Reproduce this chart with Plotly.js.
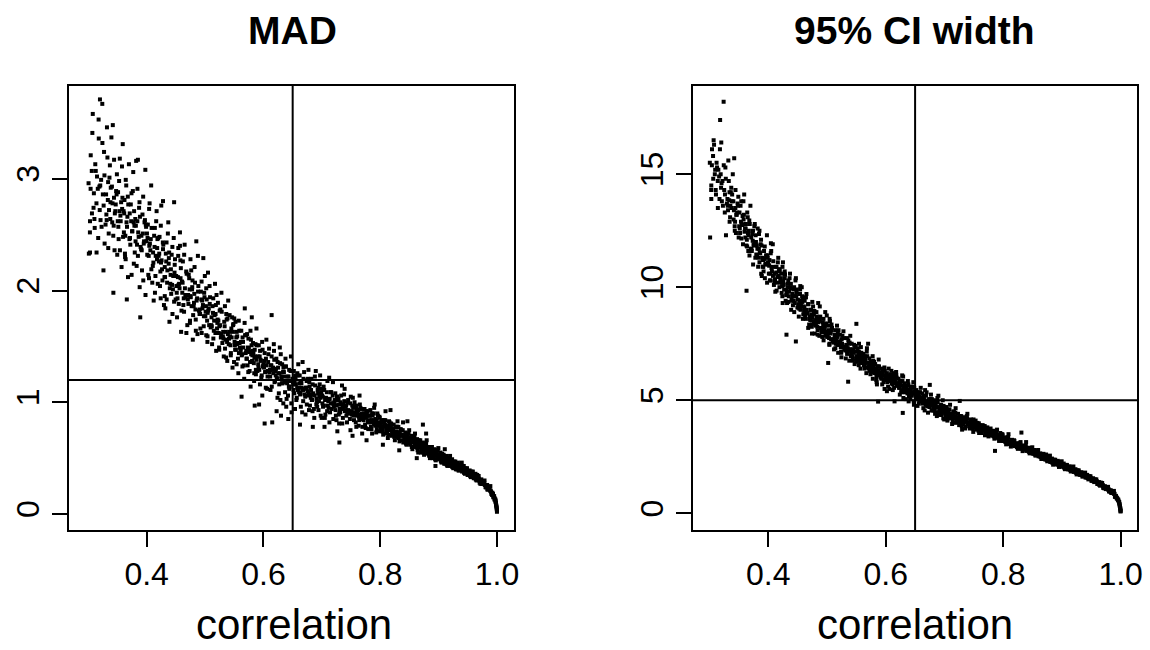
<!DOCTYPE html>
<html>
<head>
<meta charset="utf-8">
<script src="https://cdn.plot.ly/plotly-3.0.1.min.js"></script>
<style>html,body{margin:0;padding:0;background:#fff;}#chart{width:1150px;height:650px;}</style>
</head>
<body>
<div id="chart"></div>
<script>
// correlation of each simulated data set (shared by both panels) - first batch
const corrA = [
.301,.303,.304,.306,.307,.309,
.311,.312,.314,.315,.317,.318,.319,
.320,.321,.322,.324,.325,.327,.328,
.331,.332,.334,.335,.337,.338,
.341,.342,.344,.345,.347,.349,
.351,.352,.354,.355,.357,.358,.359,
.361,.362,.364,.365,.367,.368,
.371,.372,.374,.375,.377,.378,.379,
.381,.382,.384,.385,.387,.388,
.391,.392,.394,.395,.397,.398,.399,
.401,.402,.404,.405,.407,.408,
.411,.412,.414,.415,.417,.418,.419,
.421,.422,.424,.425,.427,.428,
.431,.432,.434,.435,.437,.438,.439,
.441,.442,.444,.445,.447,.448,
.451,.452,.454,.455,.457,.458,.459,
.461,.462,.464,.465,.467,.468,
.471,.472,.474,.475,.477,.478,.479,
.481,.482,.484,.485,.487,.488,
.491,.492,.494,.495,.497,.498,.499,
.501,.502,.504,.505,.507,.508,
.511,.512,.514,.515,.517,.518,.519,
.521,.522,.524,.525,.527,.528,
.531,.532,.534,.535,.537,.538,.539,
.541,.542,.544,.545,.547,.548,
.551,.552,.554,.555,.557,.558,.559,
.561,.562,.564,.565,.567,.568,
.571,.572,.574,.575,.577,.578,.579,
.581,.582,.584,.585,.587,.588,
.591,.592,.594,.595,.597,.598,.599,
.601,.602,.604,.605,.607,.608,
.611,.612,.614,.615,.617,.618,.619,
.621,.622,.624,.625,.627,.628,
.631,.632,.634,.635,.637,.638,.639,
.641,.642,.644,.645,.647,.648,
.651,.652,.654,.655,.657,.658,.659,
.661,.662,.664,.665,.667,.668,
.671,.672,.674,.675,.677,.678,.679,
.681,.682,.684,.685,.687,.688,
.691,.692,.694,.695,.697,.698,.699,
.701,.703,.705,.707,.709,
.711,.713,.715,.717,.719,
.721,.723,.725,.727,.729,
.731,.733,.735,.737,.739,
.741,.743,.745,.747,.749,
.751,.753,.755,.757,.759,
.761,.763,.765,.767,.769,
.771,.773,.775,.777,.779,
.781,.783,.785,.787,.789,
.791,.793,.795,.797,.799,
.801,.803,.805,.807,.809,
.811,.813,.815,.817,.819,
.821,.823,.825,.827,.829,
.831,.833,.835,.837,.839,
.841,.843,.845,.847,.849,
.851,.853,.855,.857,.859,
.861,.863,.865,.867,.869,
.871,.873,.875,.877,.879,
.881,.883,.885,.887,.889,
.891,.893,.895,.897,.899,
.901,.903,.905,.907,.909,
.911,.913,.915,.917,.919,
.921,.923,.925,.927,.929,
.931,.933,.935,.937,.939,
.941,.943,.945,.947,.949,
.951,.953,.955,.957,.959,
.961,.963,.965,.967,.969,
.971,.973,.975,.977,.979,
.981,.983,.985,.987,.989,
.991,.993,.995,.997,.998,
.9985,.9992,.9996,.9999
];

// MAD of each data set - first batch
const madA = [
2.33,2.62,2.91,3.07,3.41,2.74,
2.56,3.13,2.78,3.02,2.47,3.36,2.93,
3.71,2.63,2.99,3.67,2.86,3.24,2.42,
2.68,3.46,2.97,2.51,3.12,2.79,
2.61,3.48,2.83,2.36,2.77,3.04,
2.88,2.46,3.18,2.67,2.21,2.73,3.31,
2.52,2.81,2.28,2.94,2.66,2.12,
2.69,2.41,2.87,2.53,3.06,2.24,2.58,
2.44,3.16,2.62,2.31,2.74,2.03,
2.49,2.18,2.84,2.42,2.63,1.96,2.57,
2.32,2.59,2.11,2.78,2.46,2.19,
2.34,1.91,2.56,2.13,2.71,2.38,2.06,
2.26,2.48,1.93,2.76,2.09,2.37,
2.21,1.84,2.43,2.07,2.61,2.29,1.72,
2.14,1.97,2.39,2.01,2.79,2.23,
2.04,1.76,2.31,1.88,2.52,2.11,1.63,
1.98,2.26,1.81,2.41,1.94,1.62,
1.96,2.14,1.71,2.28,1.86,2.03,1.56,
1.89,2.21,1.74,2.44,1.61,1.99,
1.83,1.66,2.08,1.91,2.29,1.77,1.94,
1.81,2.02,1.54,2.16,1.69,1.88,
1.76,1.52,1.93,1.64,2.06,1.79,1.46,
1.71,1.89,1.49,1.82,1.58,1.98,
1.63,1.41,1.86,1.56,1.74,1.37,1.61,
1.57,1.78,1.42,1.66,1.31,1.69,
1.51,1.72,1.34,1.59,1.26,1.44,1.53,
1.46,1.64,1.32,1.54,1.21,1.84,
1.39,1.61,1.27,1.48,1.36,1.14,1.43,
1.42,1.53,1.19,1.47,1.29,1.66,
1.34,1.51,1.16,1.38,1.24,1.06,1.32,
1.31,1.44,1.13,1.56,1.23,1.36,
1.29,1.11,1.41,0.82,1.26,1.46,1.18,
1.24,1.39,1.04,1.31,1.16,1.49,
1.21,1.34,0.99,1.27,1.09,1.32,0.96,
1.19,1.06,1.29,1.14,1.41,0.91,
1.16,1.28,0.94,1.22,1.04,1.26,1.11,
1.09,1.24,0.96,1.17,1.36,1.01,
1.12,0.89,1.19,1.06,1.29,0.93,1.14,
1.04,1.21,0.92,1.08,0.86,1.23,
1.03,0.96,1.13,1.01,1.24,0.88,1.09,
0.99,1.14,0.86,1.04,0.92,
1.01,0.82,1.09,0.94,1.18,
0.97,1.08,0.84,1.02,0.89,
0.94,1.06,0.81,0.98,1.12,
0.93,0.82,1.02,0.9,0.75,
0.92,1.04,0.84,0.96,0.78,
0.91,0.79,0.98,0.86,0.72,
0.87,0.94,0.77,0.89,0.83,
0.84,0.93,0.76,0.88,0.81,
0.82,0.73,0.9,0.79,0.86,
0.79,0.84,0.71,0.81,0.92,
0.77,0.68,0.83,0.75,0.8,
0.74,0.8,0.66,0.72,0.78,
0.71,0.65,0.76,0.7,0.82,
0.68,0.73,0.62,0.7,0.66,
0.65,0.7,0.58,0.67,0.61,
0.62,0.67,0.55,0.64,0.6,
0.59,0.64,0.53,0.61,0.57,
0.56,0.6,0.5,0.58,0.54,
0.53,0.58,0.48,0.55,0.51,
0.5,0.55,0.46,0.52,0.48,
0.48,0.52,0.43,0.49,0.46,
0.45,0.49,0.41,0.46,0.43,
0.42,0.46,0.39,0.43,0.4,
0.39,0.43,0.36,0.4,0.37,
0.36,0.39,0.33,0.37,0.34,
0.33,0.36,0.3,0.33,0.31,
0.29,0.31,0.27,0.28,0.26,
0.24,0.26,0.22,0.23,0.21,
0.19,0.18,0.16,0.13,0.1,
0.08,0.06,0.04,0.03
];

// 95% CI width of each data set - first batch
const ciA = [
12.2,14.5,15.4,15.8,16.5,15.0,
14.1,15.5,14.7,15.2,13.9,17.4,15.0,
16.4,13.8,14.7,18.2,14.3,15.3,12.3,
13.6,15.6,14.2,13.1,14.4,13.8,
13.0,15.7,13.5,12.4,13.3,14.0,
13.3,12.4,13.8,12.8,11.9,13.0,14.1,
12.2,12.8,11.8,13.1,12.5,11.4,
12.2,11.6,12.5,11.9,12.8,11.3,12.0,
11.4,12.6,11.7,11.1,11.9,10.6,
11.2,10.7,11.8,11.0,11.4,10.2,11.3,
10.6,11.2,10.3,11.6,10.9,10.5,
10.6,9.8,10.9,10.2,11.3,10.7,10.0,
10.2,10.6,9.6,11.1,9.9,10.4,
9.85,9.3,10.3,9.6,10.6,10.0,9.0,
9.6,9.2,10.0,9.3,10.4,9.75,
9.25,8.7,9.7,9.0,10.0,9.35,8.6,
8.95,9.4,8.6,9.7,8.85,8.2,
8.7,9.0,8.25,9.35,8.5,8.9,7.95,
8.4,8.9,8.1,9.3,7.85,8.6,
8.15,7.8,8.6,8.25,8.9,7.95,8.35,
7.9,8.3,7.45,8.5,7.7,8.1,
7.7,7.25,8.1,7.5,8.3,7.8,7.1,
7.55,7.9,7.15,7.7,7.35,8.05,
7.35,6.85,7.75,7.15,7.5,6.75,7.25,
7.05,7.5,6.75,7.25,6.6,7.4,
6.85,7.3,6.55,7.1,6.4,6.8,7.0,
6.65,7.05,6.4,6.85,6.2,7.3,
6.45,6.85,6.15,6.6,6.35,5.95,6.55,
6.3,6.6,5.9,6.4,6.1,6.8,
6.1,6.4,5.7,6.2,5.9,5.5,6.0,
5.9,6.2,5.6,6.4,5.85,6.05,
5.85,5.45,6.05,4.95,5.75,6.1,5.65,
5.65,5.95,5.25,5.75,5.45,6.1,
5.45,5.75,5.05,5.55,5.3,5.65,4.95,
5.4,5.05,5.6,5.3,5.8,4.8,
5.15,5.45,4.75,5.25,4.95,5.35,5.05,
4.95,5.3,4.65,5.1,5.45,4.8,
4.85,4.45,5.05,4.75,5.25,4.55,4.95,
4.7,5.0,4.4,4.8,4.3,5.1,
4.55,4.35,4.8,4.45,5.0,4.2,4.65,
4.4,4.7,4.1,4.5,4.25,
4.3,3.95,4.5,4.2,4.65,
4.15,4.4,3.9,4.2,4.0,
4.05,4.25,3.75,4.1,4.4,
3.95,3.75,4.15,3.9,3.6,
3.85,4.1,3.7,3.9,3.55,
3.75,3.55,3.9,3.7,3.45,
3.6,3.8,3.4,3.65,3.55,
3.5,3.65,3.3,3.55,3.4,
3.4,3.2,3.55,3.35,3.45,
3.25,3.35,3.05,3.25,3.5,
3.15,2.95,3.25,3.1,3.2,
3.0,3.1,2.85,2.95,3.05,
2.9,2.75,3.0,2.85,3.15,
2.8,2.9,2.65,2.8,2.75,
2.7,2.8,2.55,2.7,2.6,
2.55,2.65,2.4,2.6,2.5,
2.42,2.55,2.3,2.45,2.38,
2.3,2.42,2.15,2.35,2.25,
2.2,2.32,2.05,2.25,2.15,
2.08,2.2,1.95,2.12,2.02,
1.97,2.08,1.85,2.0,1.92,
1.85,1.95,1.72,1.88,1.8,
1.72,1.82,1.62,1.75,1.68,
1.6,1.7,1.5,1.62,1.55,
1.46,1.55,1.38,1.48,1.42,
1.3,1.38,1.22,1.3,1.25,
1.14,1.2,1.07,1.1,1.04,
0.97,1.02,0.9,0.93,0.86,
0.72,0.7,0.62,0.52,0.42,
0.32,0.24,0.15,0.1
];

// second batch of simulated data sets
const corrB = [
.3005,.3028,.3042,.3063,.3077,.3096,
.3105,.3128,.3142,.3163,.3177,.3196,
.3205,.3228,.3242,.3263,.3277,.3296,
.3305,.3328,.3342,.3363,.3377,.3396,
.3405,.3428,.3442,.3463,.3477,.3496,
.3505,.3528,.3542,.3563,.3577,.3596,
.3605,.3628,.3642,.3663,.3677,.3696,
.3705,.3728,.3742,.3763,.3777,.3796,
.3805,.3828,.3842,.3863,.3877,.3896,
.3905,.3928,.3942,.3963,.3977,.3996,
.4005,.4028,.4042,.4063,.4077,.4096,
.4105,.4128,.4142,.4163,.4177,.4196,
.4205,.4228,.4242,.4263,.4277,.4296,
.4305,.4328,.4342,.4363,.4377,.4396,
.4405,.4428,.4442,.4463,.4477,.4496,
.4505,.4528,.4542,.4563,.4577,.4596,
.4605,.4628,.4642,.4663,.4677,.4696,
.4705,.4728,.4742,.4763,.4777,.4796,
.4805,.4828,.4842,.4863,.4877,.4896,
.4905,.4928,.4942,.4963,.4977,.4996,
.5005,.5028,.5042,.5063,.5077,.5096,
.5105,.5128,.5142,.5163,.5177,.5196,
.5205,.5228,.5242,.5263,.5277,.5296,
.5305,.5328,.5342,.5363,.5377,.5396,
.5405,.5428,.5442,.5463,.5477,.5496,
.5505,.5528,.5542,.5563,.5577,.5596,
.5605,.5628,.5642,.5663,.5677,.5696,
.5705,.5728,.5742,.5763,.5777,.5796,
.5805,.5828,.5842,.5863,.5877,.5896,
.5905,.5928,.5942,.5963,.5977,.5996,
.6005,.6028,.6042,.6063,.6077,.6096,
.6105,.6128,.6142,.6163,.6177,.6196,
.6205,.6228,.6242,.6263,.6277,.6296,
.6305,.6328,.6342,.6363,.6377,.6396,
.6405,.6428,.6442,.6463,.6477,.6496,
.6505,.6528,.6542,.6563,.6577,.6596,
.6605,.6628,.6642,.6663,.6677,.6696,
.6705,.6728,.6742,.6763,.6777,.6796,
.6805,.6828,.6842,.6863,.6877,.6896,
.6905,.6928,.6942,.6963,.6977,.6996,
.7002,.702,.704,.706,.708,.7095,
.7102,.712,.714,.716,.718,.7195,
.7202,.722,.724,.726,.728,.7295,
.7302,.732,.734,.736,.738,.7395,
.7402,.742,.744,.746,.748,.7495,
.7502,.752,.754,.756,.758,.7595,
.7602,.762,.764,.766,.768,.7695,
.7702,.772,.774,.776,.778,.7795,
.7802,.782,.784,.786,.788,.7895,
.7902,.792,.794,.796,.798,.7995,
.8002,.802,.804,.806,.808,.8095,
.8102,.812,.814,.816,.818,.8195,
.8202,.822,.824,.826,.828,.8295,
.8302,.832,.834,.836,.838,.8395,
.8402,.842,.844,.846,.848,.8495,
.8502,.852,.854,.856,.858,.8595,
.8602,.862,.864,.866,.868,.8695,
.8702,.872,.874,.876,.878,.8795,
.8802,.882,.884,.886,.888,.8895,
.8902,.892,.894,.896,.898,.8995,
.9002,.902,.904,.906,.908,.9095,
.9102,.912,.914,.916,.918,.9195,
.9202,.922,.924,.926,.928,.9295,
.9302,.932,.934,.936,.938,.9395,
.9402,.942,.944,.946,.948,.9495,
.9502,.952,.954,.956,.958,.9595,
.9602,.962,.964,.966,.968,.9695,
.9702,.972,.974,.976,.978,.9795,
.9802,.982,.984,.986,.988,.9895,
.9902,.992,.994,.996,.9975,.9982,
.9988,.9994,.9998
];

const madB = [
2.96,2.52,3.21,2.69,3.58,2.87,
2.64,3.07,2.34,2.91,3.53,2.72,
2.94,2.57,3.32,2.76,3.03,2.59,
2.86,3.19,2.38,3.01,2.64,3.37,
2.93,2.49,3.17,2.71,2.89,2.32,
2.62,2.98,2.36,2.79,3.11,2.48,
2.71,2.33,2.99,2.57,2.84,3.13,
2.46,2.77,2.14,2.89,2.61,2.34,
2.64,2.22,2.91,2.48,2.79,2.39,
2.37,2.68,2.09,2.61,3.08,2.44,
2.51,2.14,2.73,2.36,2.94,2.07,
2.22,2.49,1.98,2.62,2.28,2.47,
2.31,2.04,2.58,2.19,2.43,1.87,
2.12,2.33,1.92,2.51,2.24,2.02,
2.06,2.32,1.79,2.47,2.16,1.92,
2.13,1.93,2.38,2.02,2.27,1.82,
2.08,1.87,2.32,1.96,2.17,1.69,
1.92,2.11,1.73,2.18,2.01,1.78,
1.86,2.07,1.64,1.93,2.31,1.82,
1.79,1.99,1.62,1.87,1.68,2.13,
1.77,1.92,1.59,1.84,2.04,1.67,
1.69,1.86,1.57,1.78,1.62,1.96,
1.66,1.73,1.47,1.83,1.61,1.53,
1.59,1.72,1.48,1.79,1.54,1.91,
1.52,1.59,1.44,1.76,1.63,1.36,
1.54,1.47,1.63,1.39,1.73,1.49,
1.48,1.42,1.58,1.33,1.71,1.44,
1.46,1.33,1.57,1.28,1.64,1.51,
1.37,1.44,1.26,1.52,1.38,1.28,
1.41,1.29,1.46,1.22,1.54,1.33,
1.34,1.27,1.39,1.12,1.28,1.48,
1.27,1.33,1.14,1.31,1.52,1.19,
1.28,1.22,1.36,1.08,1.26,1.43,
1.23,1.17,1.31,1.18,1.39,1.03,
1.17,1.23,1.12,1.28,0.99,1.21,
1.18,1.08,1.24,1.02,1.13,1.34,
1.13,1.07,1.18,0.91,1.11,1.27,
1.07,1.13,0.98,1.21,1.08,0.97,
1.07,1.02,1.16,0.94,1.06,1.28,
0.98,1.11,0.93,1.16,1.04,0.86,
1.06,0.96,1.11,0.89,1.02,1.19,
0.97,1.03,0.91,1.09,0.99,0.85,
0.96,1.02,0.88,1.05,0.98,0.81,
0.91,1.0,0.94,0.86,1.07,0.92,
0.96,0.88,1.0,0.92,0.85,1.05,
0.9,0.97,0.88,1.0,0.82,0.94,
0.88,0.93,0.84,0.95,0.9,0.78,
0.85,0.9,0.8,0.92,0.88,0.76,
0.82,0.88,0.78,0.9,0.84,0.95,
0.8,0.85,0.76,0.88,0.82,0.74,
0.77,0.82,0.74,0.84,0.8,0.72,
0.75,0.79,0.71,0.82,0.77,0.7,
0.72,0.76,0.69,0.78,0.74,0.83,
0.69,0.73,0.66,0.75,0.71,0.64,
0.66,0.7,0.63,0.72,0.68,0.75,
0.63,0.67,0.6,0.69,0.65,0.72,
0.6,0.64,0.57,0.66,0.62,0.55,
0.57,0.61,0.55,0.63,0.59,0.66,
0.54,0.58,0.52,0.6,0.56,0.5,
0.52,0.55,0.49,0.57,0.53,0.59,
0.49,0.52,0.47,0.54,0.5,0.45,
0.46,0.49,0.44,0.5,0.47,0.52,
0.43,0.46,0.42,0.47,0.44,0.4,
0.41,0.43,0.39,0.44,0.42,0.46,
0.38,0.4,0.37,0.41,0.39,0.35,
0.35,0.37,0.34,0.38,0.36,0.33,
0.32,0.34,0.31,0.35,0.32,0.3,
0.28,0.3,0.27,0.29,0.28,0.26,
0.24,0.25,0.22,0.23,0.21,0.2,
0.18,0.19,0.16,0.14,0.12,0.09,
0.07,0.05,0.02
];

const ciB = [
15.5,14.3,16.1,14.8,16.3,15.2,
14.3,15.3,13.5,14.9,16.1,14.4,
14.6,13.6,15.4,14.1,14.8,13.7,
13.9,14.7,12.9,14.2,13.5,15.0,
13.8,12.7,14.3,13.2,13.7,12.2,
12.7,13.6,12.15,13.15,13.8,12.45,
12.6,11.85,13.3,12.3,12.95,13.6,
11.7,12.35,11.0,12.7,12.0,11.45,
11.85,10.9,12.35,11.5,12.1,11.3,
10.9,11.6,10.4,11.4,12.3,11.1,
11.0,10.3,11.5,10.7,11.9,10.1,
10.25,10.9,9.85,11.1,10.5,10.75,
10.3,9.75,10.9,10.1,10.6,9.4,
9.65,10.15,9.35,10.4,9.95,9.45,
9.4,9.9,8.9,10.3,9.6,9.1,
9.45,9.05,9.9,9.15,9.6,8.8,
9.15,8.65,9.55,8.85,9.25,8.35,
8.6,9.0,8.35,9.15,8.8,8.4,
8.3,8.7,7.9,8.5,9.15,8.2,
8.05,8.45,7.65,8.25,7.85,8.75,
7.8,8.1,7.5,8.0,8.35,7.6,
7.65,7.9,7.3,7.85,7.45,8.1,
7.45,7.6,7.1,7.85,7.35,7.25,
7.25,7.45,7.05,7.65,7.2,7.85,
6.95,7.15,6.85,7.45,7.15,6.7,
6.95,6.75,7.15,6.65,7.35,6.85,
6.75,6.55,6.95,6.45,7.15,6.65,
6.5,6.3,6.7,6.25,6.95,6.6,
6.2,6.4,6.05,6.5,6.3,6.15,
6.2,5.95,6.3,5.8,6.45,6.1,
6.0,5.8,6.1,5.5,5.9,6.3,
5.75,5.95,5.55,5.85,6.25,5.65,
5.75,5.55,5.85,5.35,5.65,6.05,
5.55,5.35,5.65,5.45,5.85,5.15,
5.3,5.5,5.2,5.6,4.95,5.4,
5.25,5.05,5.35,4.85,5.15,5.55,
5.05,4.85,5.15,4.55,4.95,5.35,
4.75,5.0,4.7,5.05,4.85,4.55,
4.8,4.55,4.9,4.45,4.7,5.2,
4.45,4.7,4.35,4.75,4.55,4.15,
4.5,4.3,4.6,4.2,4.4,4.8,
4.25,4.4,4.1,4.5,4.3,4.0,
4.15,4.25,4.05,4.3,4.2,3.85,
3.95,4.15,4.05,3.85,4.3,4.0,
4.0,3.85,4.05,3.9,3.75,4.15,
3.8,3.95,3.8,4.0,3.65,3.9,
3.7,3.8,3.65,3.85,3.75,3.5,
3.6,3.7,3.5,3.7,3.65,3.45,
3.45,3.6,3.4,3.6,3.5,3.7,
3.35,3.45,3.25,3.5,3.4,3.2,
3.2,3.3,3.15,3.35,3.25,3.1,
3.1,3.15,3.0,3.2,3.12,2.98,
2.97,3.03,2.92,3.08,3.0,3.15,
2.87,2.93,2.82,2.97,2.9,2.78,
2.76,2.82,2.72,2.86,2.8,2.92,
2.65,2.7,2.6,2.74,2.68,2.8,
2.52,2.58,2.48,2.62,2.55,2.45,
2.4,2.45,2.36,2.5,2.42,2.55,
2.27,2.33,2.24,2.37,2.3,2.2,
2.18,2.22,2.13,2.26,2.2,2.3,
2.06,2.11,2.02,2.14,2.08,1.98,
1.95,2.0,1.92,2.03,1.97,2.07,
1.83,1.88,1.8,1.9,1.85,1.76,
1.71,1.74,1.68,1.76,1.72,1.8,
1.58,1.62,1.56,1.64,1.6,1.52,
1.44,1.48,1.42,1.5,1.46,1.4,
1.3,1.34,1.27,1.36,1.3,1.24,
1.13,1.17,1.1,1.15,1.12,1.06,
0.97,1.0,0.92,0.95,0.89,0.86,
0.74,0.77,0.67,0.6,0.5,0.38,
0.28,0.2,0.08
];

// third batch (core of the band, 0.33 - 0.99)
const corrC = [
.3315,.3335,.3355,.3385, .3415,.3435,.3455,.3485, .3515,.3535,.3555,.3585,
.3615,.3635,.3655,.3685, .3715,.3735,.3755,.3785, .3815,.3835,.3855,.3885,
.3915,.3935,.3955,.3985, .4015,.4035,.4055,.4085, .4115,.4135,.4155,.4185,
.4215,.4235,.4255,.4285, .4315,.4335,.4355,.4385, .4415,.4435,.4455,.4485,
.4515,.4535,.4555,.4585, .4615,.4635,.4655,.4685, .4715,.4735,.4755,.4785,
.4815,.4835,.4855,.4885, .4915,.4935,.4955,.4985, .5015,.5035,.5055,.5085,
.5115,.5135,.5155,.5185, .5215,.5235,.5255,.5285, .5315,.5335,.5355,.5385,
.5415,.5435,.5455,.5485, .5515,.5535,.5555,.5585, .5615,.5635,.5655,.5685,
.5715,.5735,.5755,.5785, .5815,.5835,.5855,.5885, .5915,.5935,.5955,.5985,
.6015,.6035,.6055,.6085, .6115,.6135,.6155,.6185, .6215,.6235,.6255,.6285,
.6315,.6335,.6355,.6385, .6415,.6435,.6455,.6485, .6515,.6535,.6555,.6585,
.6615,.6635,.6655,.6685, .6715,.6735,.6755,.6785, .6815,.6835,.6855,.6885,
.6915,.6935,.6955,.6985, .7015,.7035,.7055,.7085, .7115,.7135,.7155,.7185,
.7215,.7235,.7255,.7285, .7315,.7335,.7355,.7385, .7415,.7435,.7455,.7485,
.7515,.7535,.7555,.7585, .7615,.7635,.7655,.7685, .7715,.7735,.7755,.7785,
.7815,.7835,.7855,.7885, .7915,.7935,.7955,.7985, .8015,.8035,.8055,.8085,
.8115,.8135,.8155,.8185, .8215,.8235,.8255,.8285, .8315,.8335,.8355,.8385,
.8415,.8435,.8455,.8485, .8515,.8535,.8555,.8585, .8615,.8635,.8655,.8685,
.8715,.8735,.8755,.8785, .8815,.8835,.8855,.8885, .8915,.8935,.8955,.8985,
.9015,.9035,.9055,.9085, .9115,.9135,.9155,.9185, .9215,.9235,.9255,.9285,
.9315,.9335,.9355,.9385, .9415,.9435,.9455,.9485, .9515,.9535,.9555,.9585,
.9615,.9635,.9655,.9685, .9715,.9735,.9755,.9785, .9815,.9835,.9855,.9885,
.9915,.9935,.9955,.9972
];

const madC = [
2.63,2.81,2.72,2.92, 2.78,2.58,2.69,2.86, 2.57,2.71,2.62,2.83,
2.69,2.49,2.61,2.77, 2.47,2.62,2.53,2.71, 2.58,2.41,2.52,2.66,
2.36,2.51,2.44,2.59, 2.47,2.31,2.42,2.56, 2.25,2.39,2.31,2.46,
2.33,2.17,2.27,2.41, 2.12,2.26,2.18,2.34, 2.19,2.05,2.13,2.28,
1.98,2.12,2.06,2.2, 2.07,1.93,2.02,2.15, 1.88,2.01,1.94,2.09,
1.97,1.83,1.91,2.04, 1.79,1.92,1.84,1.98, 1.86,1.73,1.82,1.94,
1.68,1.8,1.73,1.87, 1.74,1.62,1.69,1.81, 1.57,1.68,1.63,1.75,
1.63,1.51,1.58,1.7, 1.47,1.58,1.53,1.64, 1.54,1.43,1.49,1.6,
1.39,1.49,1.45,1.56, 1.46,1.35,1.41,1.51, 1.31,1.41,1.37,1.47,
1.37,1.27,1.33,1.43, 1.23,1.33,1.29,1.38, 1.3,1.21,1.26,1.35,
1.17,1.27,1.23,1.32, 1.23,1.14,1.19,1.28, 1.11,1.19,1.16,1.24,
1.17,1.08,1.13,1.21, 1.05,1.13,1.1,1.18, 1.11,1.02,1.07,1.15,
1.0,1.08,1.05,1.12, 1.05,0.97,1.02,1.09, 0.95,1.03,0.99,1.06,
1.0,0.93,0.97,1.03, 0.91,0.98,0.95,1.01, 0.97,0.9,0.93,0.99,
0.89,0.95,0.91,0.97, 0.93,0.87,0.89,0.94, 0.84,0.9,0.86,0.92,
0.88,0.82,0.84,0.9, 0.79,0.84,0.81,0.87, 0.82,0.76,0.78,0.84,
0.74,0.79,0.76,0.81, 0.76,0.71,0.73,0.78, 0.68,0.73,0.7,0.75,
0.7,0.65,0.67,0.72, 0.62,0.67,0.64,0.69, 0.64,0.59,0.61,0.66,
0.56,0.61,0.58,0.63, 0.58,0.53,0.55,0.6, 0.51,0.55,0.52,0.57,
0.52,0.48,0.49,0.53, 0.45,0.49,0.46,0.5, 0.46,0.42,0.43,0.47,
0.4,0.43,0.41,0.44, 0.4,0.37,0.38,0.41, 0.35,0.37,0.35,0.38,
0.33,0.31,0.32,0.34, 0.27,0.29,0.28,0.3, 0.24,0.22,0.23,0.25,
0.17,0.15,0.13,0.11
];

const ciC = [
13.4,13.85,13.6,14.1, 13.4,12.9,13.2,13.6, 12.6,12.9,12.75,13.2,
12.6,12.1,12.4,12.8, 11.7,12.05,11.85,12.3, 11.7,11.3,11.55,11.85,
10.9,11.25,11.05,11.4, 10.95,10.6,10.85,11.15, 10.35,10.65,10.45,10.8,
10.4,10.05,10.25,10.55, 9.7,10.0,9.8,10.15, 9.7,9.4,9.6,9.9,
9.1,9.4,9.25,9.55, 9.1,8.8,9.0,9.25, 8.55,8.8,8.65,8.95,
8.55,8.25,8.45,8.7, 8.0,8.3,8.1,8.4, 8.05,7.75,7.95,8.2,
7.55,7.8,7.65,7.95, 7.6,7.35,7.5,7.75, 7.2,7.4,7.3,7.55,
7.25,6.95,7.1,7.35, 6.8,7.0,6.9,7.1, 6.85,6.6,6.7,6.95,
6.4,6.6,6.5,6.75, 6.4,6.2,6.3,6.5, 6.0,6.2,6.1,6.3,
6.05,5.85,5.95,6.15, 5.7,5.9,5.8,6.0, 5.75,5.55,5.65,5.85,
5.4,5.6,5.5,5.7, 5.45,5.25,5.35,5.55, 5.05,5.25,5.15,5.35,
5.1,4.9,5.0,5.2, 4.75,4.95,4.85,5.05, 4.8,4.6,4.7,4.9,
4.45,4.65,4.55,4.75, 4.5,4.3,4.4,4.6, 4.2,4.35,4.28,4.45,
4.22,4.05,4.15,4.3, 3.97,4.12,4.05,4.2, 4.02,3.87,3.93,4.08,
3.78,3.92,3.84,3.98, 3.82,3.67,3.73,3.86, 3.55,3.7,3.6,3.75,
3.57,3.42,3.48,3.62, 3.32,3.45,3.37,3.5, 3.32,3.18,3.24,3.37,
3.06,3.18,3.11,3.23, 3.05,2.93,2.98,3.1, 2.85,2.95,2.89,2.99,
2.85,2.74,2.79,2.89, 2.63,2.73,2.67,2.77, 2.6,2.5,2.54,2.63,
2.38,2.47,2.41,2.5, 2.34,2.25,2.29,2.37, 2.16,2.24,2.19,2.27,
2.12,2.04,2.07,2.14, 1.94,2.0,1.96,2.03, 1.88,1.81,1.84,1.9,
1.7,1.75,1.71,1.77, 1.62,1.57,1.59,1.64, 1.44,1.48,1.45,1.5,
1.32,1.27,1.29,1.34, 1.11,1.15,1.12,1.17, 0.97,0.92,0.94,0.99,
0.72,0.65,0.57,0.47
];

// scattered data sets away from the main band
const corrD = [.303,.326,.343,.366,.385,.389,.428,.457,.58,.585,.602,.614,.63,.73,.873,
               .363,.431,.447,.502,.536,.587,.629,.55,.57,.675,.726,.786,.831];
const madD  = [2.34,2.18,1.98,1.92,3.17,1.76,2.8,2.4,1.76,0.97,0.81,1.78,0.88,0.64,0.8,
               2.3,1.95,1.9,1.6,1.4,1.25,1.02,1.75,1.6,1.2,1.05,0.72,0.78];
const ciD   = [13.9,13.3,12.5,11.6,12.5,10.5,10.7,9.4,6.7,5.7,5.4,6.2,5.1,3.7,2.6,
               9.84,7.9,7.6,6.65,5.82,4.94,4.44,8.38,7.5,5.68,4.97,2.76,3.57];

// band-edge data sets (wider MAD scatter above 0.7, wider CI scatter 0.4 - 0.6)
const corrE = [.7045,.7125,.7265,.7345,.7525,.7645,.7765,.7905,.8045,.8175,.8325,.8465,.8625,.8785,.8945,.9105,
               .5625,.5925,.6225,.6425,.6625,.6845,
               .4045,.4245,.4545,.4745,.5045,.5245,.5545,.5845];
const madE  = [0.78,1.22,0.74,1.15,0.7,1.06,0.66,0.98,0.62,0.93,0.57,0.83,0.5,0.72,0.43,0.58,
               1.05,0.98,0.92,0.85,0.8,0.78,
               2.4,2.25,2.05,1.95,1.8,1.68,1.52,1.4];
const ciE   = [4.35,4.3,4.1,4.05,3.85,3.75,3.6,3.4,3.25,3.1,2.9,2.78,2.55,2.4,2.2,1.98,
               6.7,6.1,5.6,5.35,5.0,4.7,
               11.95,9.3,10.05,7.95,8.6,6.9,7.5,5.8];

const panelTitles = ['MAD', '95% CI width'];
const xLabel = 'correlation';
const xTicks = [0.4, 0.6, 0.8, 1.0];
const xTickText = ['0.4', '0.6', '0.8', '1.0'];
const madTicks = [0, 1, 2, 3];
const ciTicks = [0, 5, 10, 15];
const corrCut = 0.65;
const madCut = 1.2;
const ciCut = 5;

const corr = corrA.concat(corrB, corrC, corrD, corrE);
const mad = madA.concat(madB, madC, madD, madE);
const ciw = ciA.concat(ciB, ciC, ciD, ciE);

const FONT = 'Liberation Sans, Arial, Helvetica, sans-serif';
const W = 1150, H = 650;
const px = v => v / W;
const py = v => 1 - v / H;

const mk = {symbol: 'square', size: 4, color: '#000', line: {width: 0}};
const traces = [
  {type: 'scatter', mode: 'markers', x: corr, y: mad, xaxis: 'x', yaxis: 'y', marker: mk, hoverinfo: 'skip', showlegend: false},
  {type: 'scatter', mode: 'markers', x: corr, y: ciw, xaxis: 'x2', yaxis: 'y2', marker: mk, hoverinfo: 'skip', showlegend: false}
];

const axBase = {
  showgrid: false, zeroline: false, showline: true, mirror: true,
  linecolor: '#000', linewidth: 2, ticks: 'outside', ticklen: 15, tickwidth: 2,
  tickcolor: '#000', tickfont: {family: FONT, size: 32, color: '#000'}, fixedrange: true
};
const yDom = [120 / H, 564 / H];

const layout = {
  width: W, height: H,
  margin: {l: 0, r: 0, t: 0, b: 0},
  paper_bgcolor: '#fff', plot_bgcolor: '#fff',
  showlegend: false,
  xaxis: Object.assign({}, axBase, {domain: [px(69), px(514)], range: [0.267, 1.029], tickmode: 'array', tickvals: xTicks, ticktext: xTickText, anchor: 'y'}),
  yaxis: Object.assign({}, axBase, {domain: yDom, range: [-0.143, 3.83], tickmode: 'array', tickvals: madTicks, ticktext: madTicks.map(String), tickangle: -90, anchor: 'x'}),
  xaxis2: Object.assign({}, axBase, {domain: [px(692.5), px(1137)], range: [0.271, 1.0278], tickmode: 'array', tickvals: xTicks, ticktext: xTickText, anchor: 'y2'}),
  yaxis2: Object.assign({}, axBase, {domain: yDom, range: [-0.739, 18.9], tickmode: 'array', tickvals: ciTicks, ticktext: ciTicks.map(String), tickangle: -90, anchor: 'x2'}),
  shapes: [
    {type: 'line', xref: 'x', yref: 'y domain', x0: corrCut, x1: corrCut, y0: 0, y1: 1, line: {color: '#000', width: 2}},
    {type: 'line', xref: 'x domain', yref: 'y', x0: 0, x1: 1, y0: madCut, y1: madCut, line: {color: '#000', width: 2}},
    {type: 'line', xref: 'x2', yref: 'y2 domain', x0: corrCut, x1: corrCut, y0: 0, y1: 1, line: {color: '#000', width: 2}},
    {type: 'line', xref: 'x2 domain', yref: 'y2', x0: 0, x1: 1, y0: ciCut, y1: ciCut, line: {color: '#000', width: 2}}
  ],
  annotations: [
    {text: '<b>' + panelTitles[0] + '</b>', xref: 'paper', yref: 'paper', x: px(292), y: py(30), xanchor: 'center', yanchor: 'middle', showarrow: false, font: {family: FONT, size: 39, color: '#000'}},
    {text: '<b>' + panelTitles[1] + '</b>', xref: 'paper', yref: 'paper', x: px(914), y: py(30), xanchor: 'center', yanchor: 'middle', showarrow: false, font: {family: FONT, size: 39, color: '#000'}},
    {text: xLabel, xref: 'paper', yref: 'paper', x: px(294), y: py(624), xanchor: 'center', yanchor: 'middle', showarrow: false, font: {family: FONT, size: 42, color: '#000'}},
    {text: xLabel, xref: 'paper', yref: 'paper', x: px(915), y: py(624), xanchor: 'center', yanchor: 'middle', showarrow: false, font: {family: FONT, size: 42, color: '#000'}}
  ]
};

Plotly.newPlot('chart', traces, layout, {displayModeBar: false, staticPlot: true});
</script>
</body>
</html>
